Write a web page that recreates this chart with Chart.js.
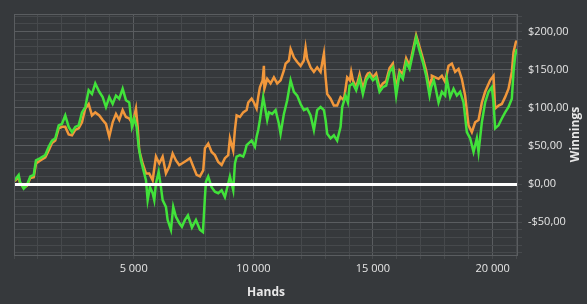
<!DOCTYPE html>
<html>
<head>
<meta charset="utf-8">
<script src="https://cdn.jsdelivr.net/npm/chart.js@4.4.1/dist/chart.umd.min.js"></script>
<style>
  html, body { margin: 0; padding: 0; background: #36393c; }
  #wrap { width: 587px; height: 304px; position: relative; }
</style>
</head>
<body>
<div id="wrap"><canvas id="winningsChart"></canvas></div>
<script>
// hands played / winnings ($)
var greenHands = [29,196,251,405,543,681,823,919,1099,1307,1449,1587,1725,1867,2005,2143,2285,2423,2560,2702,2840,2978,3120,3258,3396,3563,3705,3843,3981,4123,4261,4398,4540,4678,4816,4929,5025,5125,5209,5305,5443,5514,5585,5681,5794,5861,5932,6045,6140,6211,6349,6420,6558,6654,6767,6905,7017,7143,7268,7435,7602,7769,7895,7978,8020,8116,8258,8396,8534,8676,8813,9022,9160,9231,9302,9440,9578,9649,9720,9858,9929,10067,10138,10204,10275,10413,10580,10651,10789,10931,11069,11140,11278,11416,11558,11696,11834,11975,12113,12251,12393,12531,12669,12811,12949,13020,13087,13229,13366,13504,13646,13713,13855,13951,14022,14160,14298,14440,14578,14716,14858,14996,15133,15275,15413,15551,15693,15831,15969,16111,16249,16386,16528,16666,16804,16946,17084,17222,17364,17431,17543,17598,17740,17878,18016,18087,18225,18367,18505,18642,18784,18922,19060,19202,19340,19411,19549,19686,19828,19966,20037,20104,20246,20384,20522,20664,20802,20873,20940,21010];
var greenWinnings = [5,12,3,-6,-1,10,12,31,34,38,49,57,60,77,79,90,75,68,75,77,94,101,123,118,132,121,114,101,114,105,116,112,125,110,107,75,86,75,49,31,14,5,-21,-4,-12,-21,1,16,-4,-21,-30,-47,-60,-30,-43,-51,-56,-47,-41,-57,-47,-60,-63,-17,3,10,-4,-10,-12,-8,-17,10,-8,27,36,38,36,42,51,55,57,49,62,71,84,114,84,94,92,97,79,66,92,110,136,121,116,105,97,99,90,71,97,101,97,84,66,60,64,57,75,101,116,107,129,132,123,138,118,136,143,136,140,121,127,129,147,153,116,145,138,160,151,171,192,175,160,142,116,127,136,129,107,121,116,138,114,125,116,121,107,68,60,42,60,42,81,107,121,127,107,73,77,86,94,101,112,147,168,177];

var orangeHands = [29,196,251,405,543,681,823,919,1099,1307,1449,1587,1725,1867,2005,2143,2285,2423,2560,2702,2840,2978,3120,3258,3396,3563,3705,3843,3981,4123,4261,4398,4540,4678,4816,4958,5096,5167,5234,5376,5514,5651,5794,5932,6069,6211,6349,6487,6629,6767,6905,7017,7214,7352,7489,7631,7769,7907,7978,8116,8258,8396,8534,8676,8813,8951,9022,9160,9231,9302,9440,9578,9720,9787,9929,10025,10138,10204,10275,10388,10442,10463,10580,10722,10860,10998,11140,11278,11349,11487,11558,11696,11834,11975,12113,12184,12251,12393,12531,12669,12811,12949,13020,13087,13229,13366,13504,13646,13784,13922,14035,14090,14160,14298,14440,14578,14716,14787,14858,14996,15133,15275,15413,15551,15693,15831,15969,16111,16249,16386,16528,16666,16804,16946,17084,17222,17364,17431,17460,17740,17878,18016,18158,18296,18434,18575,18713,18851,18993,19131,19269,19411,19549,19686,19895,20037,20104,20246,20384,20522,20664,20802,20873,20969,21010];
var orangeWinnings = [4,9,1,-5,-2,8,9,27,31,35,44,54,57,73,75,75,65,64,71,73,81,99,105,90,94,90,84,79,62,81,92,84,97,88,86,79,99,75,44,27,14,14,5,36,27,36,14,23,40,31,25,27,31,34,23,12,10,18,47,53,42,38,29,25,34,38,60,44,71,90,88,94,97,107,112,107,99,114,127,136,155,125,138,132,140,132,136,149,158,162,177,166,160,155,162,179,164,153,147,153,147,171,140,118,112,103,103,114,110,140,136,147,136,127,144,125,141,145,146,140,145,126,132,135,152,158,125,149,144,165,155,175,195,180,165,149,125,136,142,138,142,134,155,158,147,151,138,116,77,68,81,84,107,121,136,142,99,103,105,114,125,147,173,186,188];

var handsMax = 21060;
var winMin = -93, winMax = 223;

function toPoints(xs, ys) {
  return xs.map(function(x, i) { return {x: x, y: ys[i]}; });
}

function spaced(v) {
  return String(v).replace(/\B(?=(\d{3})+(?!\d))/g, ' ');
}

var gridMinor = '#46494c';
var gridMajor = '#5a5d60';

// zero line over the data, box around plot, vertical axis title (bottom to top)
var framePlugin = {
  id: 'frame',
  afterDatasetsDraw: function(chart) {
    var ctx = chart.ctx, a = chart.chartArea;
    var y0 = Math.round(chart.scales.y.getPixelForValue(0));
    ctx.save();
    ctx.strokeStyle = '#ffffff';
    ctx.lineWidth = 3;
    ctx.beginPath();
    ctx.moveTo(a.left, y0 + 0.5);
    ctx.lineTo(a.right, y0 + 0.5);
    ctx.stroke();
    ctx.restore();
  },
  afterDraw: function(chart) {
    var ctx = chart.ctx, a = chart.chartArea;
    ctx.save();
    ctx.strokeStyle = gridMajor;
    ctx.lineWidth = 1;
    ctx.strokeRect(Math.round(a.left) + 0.5, Math.round(a.top) + 0.5, Math.round(a.right - a.left) - 1, Math.round(a.bottom - a.top));
    ctx.translate(576, (a.top + a.bottom) / 2);
    ctx.rotate(-Math.PI / 2);
    ctx.fillStyle = '#e8e8e8';
    ctx.font = 'bold 12px "Open Sans"';
    ctx.textAlign = 'center';
    ctx.textBaseline = 'middle';
    ctx.fillText('Winnings', 0, 0);
    ctx.restore();
  }
};

var ctx = document.getElementById('winningsChart');
new Chart(ctx, {
  type: 'line',
  data: {
    datasets: [
      {
        label: 'All-in adj',
        data: toPoints(greenHands, greenWinnings),
        borderColor: '#41e23a',
        borderWidth: 2.5,
        pointRadius: 0,
        tension: 0,
        order: 0
      },
      {
        label: 'Net won',
        data: toPoints(orangeHands, orangeWinnings),
        borderColor: '#f1973b',
        borderWidth: 2.5,
        pointRadius: 0,
        tension: 0,
        order: 1
      }
    ]
  },
  options: {
    responsive: true,
    maintainAspectRatio: false,
    animation: false,
    layout: { padding: { left: 14, top: 14, right: 0, bottom: 0 } },
    plugins: { legend: { display: false }, tooltip: { enabled: false } },
    scales: {
      x: {
        type: 'linear',
        min: 0,
        max: handsMax,
        afterBuildTicks: function(scale) {
          var t = [];
          for (var v = 0; v <= 21000; v += 1000) t.push({value: v});
          scale.ticks = t;
        },
        afterFit: function(scale) { scale.height = 49; },
        border: { display: false },
        grid: {
          tickLength: 4,
          color: function(c) { return c.tick && c.tick.value % 5000 === 0 ? gridMajor : gridMinor; },
          tickColor: gridMinor
        },
        ticks: {
          color: '#e6e6e6',
          padding: 3,
          maxRotation: 0,
          autoSkip: false,
          font: { family: 'Open Sans', size: 11 },
          callback: function(v) { return v > 0 && v % 5000 === 0 ? spaced(v) : ''; }
        },
        title: {
          display: true,
          text: 'Hands',
          color: '#e8e8e8',
          font: { family: 'Open Sans', size: 12, weight: 'bold' },
          padding: { top: 0, bottom: 4 }
        }
      },
      y: {
        position: 'right',
        min: winMin,
        max: winMax,
        afterBuildTicks: function(scale) {
          var t = [];
          for (var v = -90; v <= 220; v += 10) t.push({value: v});
          scale.ticks = t;
        },
        afterFit: function(scale) { scale.width = 69; },
        border: { display: false },
        grid: {
          tickLength: 4,
          color: function(c) {
            if (!c.tick) return gridMinor;
            return c.tick.value % 50 === 0 ? gridMajor : gridMinor;
          },
          tickColor: gridMinor
        },
        ticks: {
          color: '#e6e6e6',
          padding: 6,
          autoSkip: false,
          font: { family: 'Open Sans', size: 11 },
          callback: function(v) {
            if (v % 50 !== 0) return '';
            var s = '$' + Math.abs(v) + ',00';
            return v < 0 ? '-' + s : s;
          }
        }
      }
    }
  },
  plugins: [framePlugin]
});
</script>
</body>
</html>
